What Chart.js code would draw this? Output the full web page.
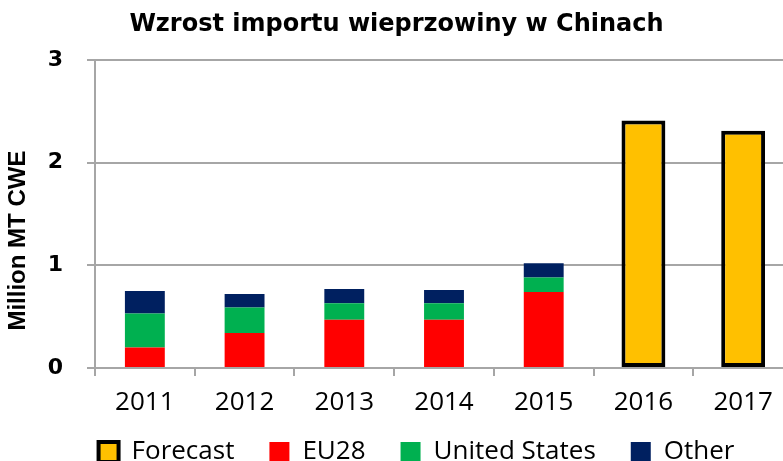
<!DOCTYPE html>
<html>
<head>
<meta charset="utf-8">
<script src="https://cdn.jsdelivr.net/npm/chart.js@4.4.1/dist/chart.umd.min.js"></script>
<style>
  html, body { margin: 0; padding: 0; background: #fff; overflow: hidden; }
  #wrap { width: 793px; height: 461px; }
</style>
</head>
<body>
<div id="wrap"><canvas id="import-chart"></canvas></div>
<script>
// Chart data
const years = ['2011', '2012', '2013', '2014', '2015', '2016', '2017'];
const forecast = [null, null, null, null, null, 2.41, 2.31];
const eu28 = [0.20, 0.34, 0.47, 0.47, 0.74, null, null];
const unitedStates = [0.33, 0.25, 0.16, 0.16, 0.14, null, null];
const other = [0.22, 0.13, 0.14, 0.13, 0.14, null, null];
const yTicks = [0, 1, 2, 3];

const gridGray = '#a6a6a6';

// Nudge the legend: a bit right and up from where the layout puts it
const legendNudge = {
    id: 'legendNudge',
    afterLayout(chart) {
        let legend = chart.legend;
        legend.left += 20;
        legend.right += 20;
        legend.top -= 15;
        legend.bottom = chart.height;
    }
};

let ctx = document.getElementById('import-chart').getContext('2d');

let importChart = new Chart(ctx, {
    type: 'bar',
    data: {
        labels: years,
        datasets: [{
            label: 'Forecast',
            data: forecast,
            backgroundColor: '#ffc000',
            borderColor: '#000000',
            borderWidth: 4,
            borderSkipped: false,
            barPercentage: 0.44
        }, {
            label: 'EU28',
            data: eu28,
            backgroundColor: '#ff0000',
            borderWidth: 0
        }, {
            label: 'United States',
            data: unitedStates,
            backgroundColor: '#00b050',
            borderWidth: 0
        }, {
            label: 'Other',
            data: other,
            backgroundColor: '#002060',
            borderWidth: 0
        }]
    },
    plugins: [legendNudge],
    options: {
        responsive: true,
        maintainAspectRatio: false,
        animation: false,
        datasets: {
            bar: {
                barPercentage: 0.4,
                categoryPercentage: 1
            }
        },
        scales: {
            x: {
                stacked: true,
                afterFit: (scale) => { scale.height = 51; },
                border: { color: gridGray, width: 2 },
                grid: {
                    offset: true,
                    drawOnChartArea: false,
                    color: gridGray,
                    lineWidth: 2,
                    tickLength: 8
                },
                ticks: {
                    color: '#000',
                    padding: 11,
                    font: { family: 'Open Sans', size: 26 }
                }
            },
            y: {
                stacked: true,
                min: 0,
                max: 3,
                afterFit: (scale) => { scale.width = 95; },
                afterBuildTicks: (scale) => { scale.ticks = yTicks.map(v => ({ value: v })); },
                border: { color: gridGray, width: 2 },
                grid: {
                    color: gridGray,
                    lineWidth: 2,
                    tickLength: 8
                },
                ticks: {
                    color: '#000',
                    padding: 24,
                    font: { family: 'DejaVu Sans', size: 22, weight: 'bold' }
                },
                title: {
                    display: true,
                    text: 'Million MT CWE        ',
                    color: '#000',
                    padding: { top: 4, bottom: 0 },
                    font: { family: 'Liberation Sans', size: 24, weight: 'bold' }
                }
            }
        },
        plugins: {
            title: {
                display: true,
                text: 'Wzrost importu wieprzowiny w Chinach',
                color: '#000',
                padding: { top: 10, bottom: 21 },
                font: { family: 'DejaVu Sans', size: 24, weight: 'bold' }
            },
            legend: {
                position: 'bottom',
                maxHeight: 42,
                labels: {
                    color: '#000',
                    boxWidth: 20,
                    boxHeight: 20,
                    padding: 35,
                    font: { family: 'Open Sans', size: 26 }
                }
            },
            tooltip: { enabled: false }
        }
    }
});
</script>
</body>
</html>
